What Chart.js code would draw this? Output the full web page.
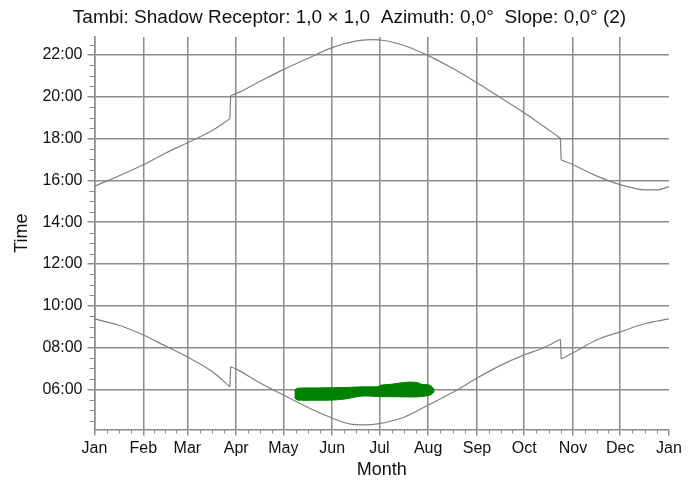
<!DOCTYPE html>
<html>
<head>
<meta charset="utf-8">
<title>Shadow Receptor</title>
<script src="https://cdn.jsdelivr.net/npm/chart.js@4"></script>
<style>
  body { margin: 0; background: #fff; }
</style>
</head>
<body>
<canvas id="shadowChart" width="699" height="486"></canvas>
<script>
const chartTitle = "Tambi: Shadow Receptor: 1,0 \u00d7 1,0  Azimuth: 0,0\u00b0  Slope: 0,0\u00b0 (2)";

// month starts (day of year) and their labels
const monthDays = [0, 31, 59, 90, 120, 151, 181, 212, 243, 273, 304, 334, 365];
const monthLabels = ["Jan", "Feb", "Mar", "Apr", "May", "Jun", "Jul", "Aug", "Sep", "Oct", "Nov", "Dec", "Jan"];
const hourTicks = [6, 8, 10, 12, 14, 16, 18, 20, 22];

// sunset (upper curve), hours
const sunsetDays  = [0, 15, 31, 45, 59, 75, 86, 86.5, 90, 105, 120, 135, 151, 165, 175, 185, 197, 212, 228, 243, 258, 273, 285, 296, 296.5, 304, 320, 334, 350, 358, 365];
const sunsetHours = [15.72, 16.2, 16.75, 17.3, 17.8, 18.4, 18.95, 20.05, 20.15, 20.73, 21.3, 21.82, 22.35, 22.65, 22.73, 22.68, 22.44, 21.97, 21.34, 20.67, 19.95, 19.23, 18.6, 18.02, 16.98, 16.75, 16.18, 15.8, 15.55, 15.55, 15.7];

// sunrise (lower curve)
const sunriseDays  = [0, 15, 31, 45, 59, 75, 86, 86.5, 90, 105, 120, 135, 151, 162, 172, 180, 197, 212, 228, 243, 258, 273, 285, 296, 296.5, 304, 320, 334, 350, 365];
const sunriseHours = [9.37, 9.08, 8.6, 8.08, 7.55, 6.84, 6.12, 7.08, 6.97, 6.32, 5.73, 5.16, 4.63, 4.35, 4.3, 4.35, 4.68, 5.25, 5.87, 6.54, 7.15, 7.65, 7.98, 8.4, 7.45, 7.75, 8.4, 8.75, 9.15, 9.37];

// shadow period (green band)
const shadowDays   = [127, 129, 140, 152, 160, 170, 180, 182, 188, 198, 205, 208, 213, 216];
const shadowTop    = [5.95, 6.05, 6.07, 6.08, 6.09, 6.12, 6.13, 6.2, 6.24, 6.34, 6.33, 6.24, 6.2, 6.0];
const shadowBottom = [5.6, 5.49, 5.48, 5.49, 5.55, 5.68, 5.66, 5.65, 5.65, 5.64, 5.64, 5.66, 5.72, 5.88];

const gridGray = "rgb(140,140,140)";
const lineGray = "rgb(128,128,128)";
const green = "rgb(0,128,0)";
const fontFamily = "'Liberation Sans', Arial, sans-serif";

function toPoints(xs, ys) {
    return xs.map((x, i) => ({ x: x, y: ys[i] }));
}

function pad2(n) {
    return (n < 10 ? "0" : "") + n;
}

// cut a curve where the clock jumps (summer time), so the smooth parts stay smooth
function curveDatasets(days, hours) {
    const pieces = [[]];
    const jumps = [];
    for (let i = 0; i < days.length; i++) {
        if (i > 0 && days[i] - days[i - 1] < 1) {
            jumps.push({ x: days[i - 1], y: hours[i - 1] }, { x: days[i], y: hours[i] }, { x: days[i] + 1, y: null });
            pieces.push([]);
        }
        pieces[pieces.length - 1].push({ x: days[i], y: hours[i] });
    }
    const sets = pieces.map(p => ({
        data: p,
        borderColor: lineGray,
        borderWidth: 1.2,
        pointRadius: 0,
        cubicInterpolationMode: "monotone",
        fill: false
    }));
    sets.push({
        data: jumps,
        borderColor: lineGray,
        borderWidth: 1.2,
        pointRadius: 0,
        spanGaps: false,
        fill: false
    });
    return sets;
}

// title centred on the whole picture
const centredTitle = {
    id: "centredTitle",
    afterDraw(chart) {
        const ctx = chart.ctx;
        ctx.save();
        ctx.fillStyle = "#111";
        ctx.font = "19px " + fontFamily;
        ctx.textAlign = "center";
        ctx.textBaseline = "middle";
        ctx.fillText(chartTitle, chart.width / 2, 18);
        ctx.restore();
    }
};

// small in-between ticks (quarter months, half hours)
const minorTicks = {
    id: "minorTicks",
    afterDraw(chart) {
        const ctx = chart.ctx;
        const xs = chart.scales.x;
        const ys = chart.scales.y;
        const area = chart.chartArea;
        ctx.save();
        ctx.strokeStyle = gridGray;
        ctx.lineWidth = 1;
        ctx.beginPath();
        for (let m = 0; m < monthDays.length - 1; m++) {
            const len = monthDays[m + 1] - monthDays[m];
            for (let k = 1; k < 4; k++) {
                const px = Math.round(xs.getPixelForValue(monthDays[m] + k * len / 4)) + 0.5;
                ctx.moveTo(px, area.bottom);
                ctx.lineTo(px, area.bottom + 4);
            }
        }
        for (let h = 4.5; h <= ys.max; h += 0.5) {
            if (h % 2 === 0) continue;
            const py = Math.round(ys.getPixelForValue(h)) + 0.5;
            ctx.moveTo(area.left - 5, py);
            ctx.lineTo(area.left, py);
        }
        ctx.stroke();
        ctx.restore();
    }
};

function createChart() {
    const ctx = document.getElementById("shadowChart").getContext("2d");

    const datasets = [].concat(
        curveDatasets(sunsetDays, sunsetHours),
        curveDatasets(sunriseDays, sunriseHours),
        [
            {
                label: "Shadow top",
                data: toPoints(shadowDays, shadowTop),
                borderColor: green,
                borderWidth: 1,
                pointRadius: 0,
                tension: 0.3,
                fill: false
            },
            {
                label: "Shadow bottom",
                data: toPoints(shadowDays, shadowBottom),
                borderColor: green,
                backgroundColor: green,
                borderWidth: 1,
                pointRadius: 0,
                tension: 0.3,
                fill: "-1"
            }
        ]
    );

    window.shadowChart = new Chart(ctx, {
        type: "line",
        data: { datasets: datasets },
        options: {
            responsive: false,
            animation: false,
            layout: { padding: { left: 0, right: 30, top: 37, bottom: 0 } },
            plugins: {
                legend: { display: false },
                tooltip: { enabled: false },
                title: { display: false }
            },
            scales: {
                x: {
                    type: "linear",
                    min: 0,
                    max: 365,
                    afterBuildTicks: (scale) => {
                        scale.ticks = monthDays.map(v => ({ value: v }));
                    },
                    afterFit: (scale) => { scale.height = 56.5; },
                    ticks: {
                        autoSkip: false,
                        maxRotation: 0,
                        padding: 3,
                        color: "#111",
                        font: { family: fontFamily, size: 16 },
                        callback: function (value) {
                            const i = monthDays.indexOf(value);
                            return i >= 0 ? monthLabels[i] : "";
                        }
                    },
                    grid: {
                        color: (c) => (c.tick && c.tick.value === 365) ? "rgba(0,0,0,0)" : gridGray,
                        lineWidth: 1.5,
                        tickColor: gridGray,
                        tickLength: 6
                    },
                    border: { color: gridGray, width: 1.5 },
                    title: {
                        display: true,
                        text: "Month",
                        color: "#111",
                        font: { family: fontFamily, size: 18 },
                        padding: { top: 0, bottom: 5 }
                    }
                },
                y: {
                    type: "linear",
                    min: 4.08,
                    max: 22.86,
                    afterBuildTicks: (scale) => {
                        scale.ticks = hourTicks.map(v => ({ value: v }));
                    },
                    afterFit: (scale) => { scale.width = 94.5; },
                    ticks: {
                        autoSkip: false,
                        padding: 5,
                        color: "#111",
                        font: { family: fontFamily, size: 16 },
                        callback: (v) => pad2(v) + ":00"
                    },
                    grid: {
                        color: gridGray,
                        lineWidth: 1.5,
                        tickColor: gridGray,
                        tickLength: 7
                    },
                    border: { color: gridGray, width: 1.5 },
                    title: {
                        display: true,
                        text: "Time",
                        color: "#111",
                        font: { family: fontFamily, size: 18 },
                        padding: { top: 11, bottom: 0 }
                    }
                }
            }
        },
        plugins: [minorTicks, centredTitle]
    });
}

window.addEventListener("DOMContentLoaded", function () {
    createChart();
});
</script>
</body>
</html>
